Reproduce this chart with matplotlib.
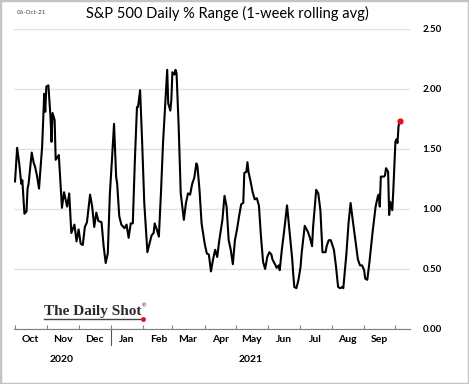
import numpy as np
import pandas as pd
import matplotlib
matplotlib.use("Agg")
from matplotlib import pyplot as plt
import matplotlib.dates as mdates
from matplotlib.lines import Line2D
from matplotlib.patches import Rectangle

# days since 2020-10-01 and the 1-week rolling avg of the daily % range
days = [0, 2, 4, 6, 7, 9, 11, 12, 13, 16, 18, 19, 21, 23, 26, 28, 29, 30, 32, 34,
        35, 36, 38, 39, 42, 45, 47, 50, 52, 54, 57, 59, 61, 63, 65, 67, 69, 72, 74, 76,
        78, 80, 83, 85, 87, 89, 91, 93, 95, 97, 98, 100, 102, 105, 107, 109, 111, 113, 115, 117,
        118, 120, 122, 124, 127, 129, 131, 133, 134, 136, 138, 140, 142, 146, 147, 149, 150, 151, 153, 154,
        155, 157, 159, 162, 164, 166, 168, 170, 172, 174, 175, 177, 179, 182, 184, 186, 188, 190, 192, 194,
        196, 199, 201, 203, 205, 207, 209, 211, 213, 215, 217, 219, 220, 222, 223, 224, 226, 228, 230, 232,
        234, 236, 238, 240, 242, 244, 246, 247, 250, 251, 253, 254, 256, 258, 261, 263, 266, 267, 268, 270,
        272, 274, 275, 278, 281, 283, 285, 286, 289, 291, 293, 295, 298, 299, 301, 303, 306, 308, 310, 312,
        314, 315, 318, 320, 322, 324, 327, 329, 331, 333, 335, 336, 338, 340, 343, 346, 348, 349, 350, 351,
        354, 355, 356, 358, 359, 360, 362, 363, 365, 366, 367, 368, 369]
pct_range = [1.23, 1.51, 1.38, 1.21, 1.24, 0.96, 0.98, 1.17, 1.21, 1.47, 1.38, 1.36, 1.28, 1.17, 1.52, 1.96, 1.81, 2.02, 2.03, 1.77,
             1.56, 1.80, 1.74, 1.41, 1.45, 1.01, 1.14, 1.02, 1.13, 0.80, 0.87, 0.73, 0.83, 0.71, 0.70, 0.85, 0.89, 1.12, 1.02, 0.85,
             0.97, 0.90, 0.89, 0.69, 0.55, 0.63, 1.13, 1.41, 1.71, 1.27, 1.21, 0.94, 0.87, 0.84, 0.87, 0.76, 0.88, 0.88, 1.41, 1.85,
             1.85, 1.99, 1.55, 1.05, 0.64, 0.71, 0.78, 0.80, 0.88, 0.83, 0.77, 1.13, 1.55, 2.16, 1.88, 1.82, 1.91, 2.14, 2.12, 2.16,
             2.13, 1.69, 1.13, 0.91, 1.05, 1.13, 1.12, 1.21, 1.26, 1.38, 1.36, 1.16, 0.88, 0.71, 0.63, 0.62, 0.48, 0.58, 0.66, 0.60,
             0.74, 0.91, 1.11, 1.02, 0.74, 0.66, 0.54, 0.74, 0.83, 0.94, 1.04, 1.05, 1.30, 1.31, 1.39, 1.31, 1.23, 1.14, 1.08, 1.09,
             1.03, 0.77, 0.56, 0.50, 0.60, 0.64, 0.62, 0.58, 0.53, 0.51, 0.53, 0.49, 0.66, 0.80, 1.03, 0.85, 0.58, 0.45, 0.35, 0.34,
             0.41, 0.52, 0.63, 0.86, 0.81, 0.76, 0.69, 0.85, 1.16, 1.13, 0.99, 0.64, 0.64, 0.69, 0.74, 0.74, 0.66, 0.52, 0.35, 0.34,
             0.35, 0.34, 0.63, 0.88, 1.05, 0.91, 0.71, 0.58, 0.53, 0.53, 0.49, 0.42, 0.41, 0.55, 0.80, 1.02, 1.10, 1.12, 1.02, 1.27,
             1.27, 1.28, 1.34, 1.31, 0.95, 1.06, 0.99, 1.16, 1.56, 1.58, 1.55, 1.69, 1.73]

month_labels = ['Oct', 'Nov', 'Dec', 'Jan', 'Feb', 'Mar', 'Apr', 'May', 'Jun', 'Jul', 'Aug', 'Sep']
year_labels = ['2020', '2021']
yticks = [0.0, 0.5, 1.0, 1.5, 2.0, 2.5]

dates = pd.Timestamp('2020-10-01') + pd.to_timedelta(days, unit='D')

plt.rcParams['font.family'] = ['Lato', 'DejaVu Sans']

fig = plt.figure(figsize=(4.69, 3.84), dpi=100)
ax = fig.add_axes([14 / 469, 1 - 329 / 384, 396 / 469, 300 / 384])

ax.plot(dates, pct_range, color='black', lw=1.5, solid_joinstyle='round')
ax.plot(dates[-1:], pct_range[-1:], 'o', color='#e8101a', ms=3.5)

ax.set_ylim(0, 2.5)
ax.set_xlim(pd.Timestamp('2020-09-30'), pd.Timestamp('2021-10-15'))

# right side y axis
ax.yaxis.tick_right()
ax.set_yticks(yticks)
ax.set_yticklabels(['%.2f' % v for v in yticks], fontsize=7, fontweight='bold')
ax.tick_params(axis='y', length=0, pad=9)
ax.grid(axis='y', color='#e2e2e2', lw=1)
ax.set_axisbelow(True)

for s in ['top', 'left', 'right']:
    ax.spines[s].set_visible(False)
ax.spines['bottom'].set_color('#7f7f7f')

# month boundaries as ticks, names in the middle of the months
month_starts = pd.date_range('2020-10-01', '2021-10-01', freq='MS')
ax.set_xticks(month_starts)
ax.set_xticklabels([''] * len(month_starts))
ax.tick_params(axis='x', which='major', direction='in', length=3, color='#7f7f7f')
mids = month_starts[:-1] + pd.Timedelta(days=15)
ax.set_xticks(mids, minor=True)
ax.set_xticklabels(month_labels, minor=True, fontsize=7.5, fontweight='bold')
ax.tick_params(axis='x', which='minor', length=0, pad=4)

# year labels and separator
trans = ax.get_xaxis_transform()
ax.text(pd.Timestamp('2020-11-15'), -0.1, year_labels[0], transform=trans,
        ha='center', va='center', fontsize=7.5, fontweight='bold')
ax.text(pd.Timestamp('2021-05-15'), -0.1, year_labels[1], transform=trans,
        ha='center', va='center', fontsize=7.5, fontweight='bold')
ax.add_line(Line2D([mdates.date2num(pd.Timestamp('2021-01-01'))] * 2, [0, -0.052],
                   transform=trans, color='#555555', lw=0.8, clip_on=False))

# title and date stamp
fig.text(227 / 469, 1 - 13 / 384, 'S&P 500 Daily % Range (1-week rolling avg)',
         ha='center', va='center', fontsize=10.5)
fig.text(17 / 469, 1 - 12 / 384, '06-Oct-21', ha='left', va='center', fontsize=4.5, color='#444444')

# logo
fig.text(44 / 469, 1 - 315 / 384, 'The Daily Shot', ha='left', va='baseline',
         fontsize=11, family='Liberation Serif', fontweight='bold', color='#2a2a2a')
fig.text(142 / 469, 1 - 307 / 384, '®', ha='left', va='baseline', fontsize=4, color='#333333')
fig.add_artist(Line2D([44 / 469, 143 / 469], [1 - 319 / 384] * 2, color='#444444', lw=1))
fig.add_artist(Line2D([143 / 469], [1 - 319 / 384], marker='o', ms=2.5, color='#e8101a'))

# image border
fig.add_artist(Rectangle((0, 0), 1, 1, transform=fig.transFigure, fill=False,
                         edgecolor='#c4c4c4', lw=2.5))

fig.savefig('out.png', dpi=100)
